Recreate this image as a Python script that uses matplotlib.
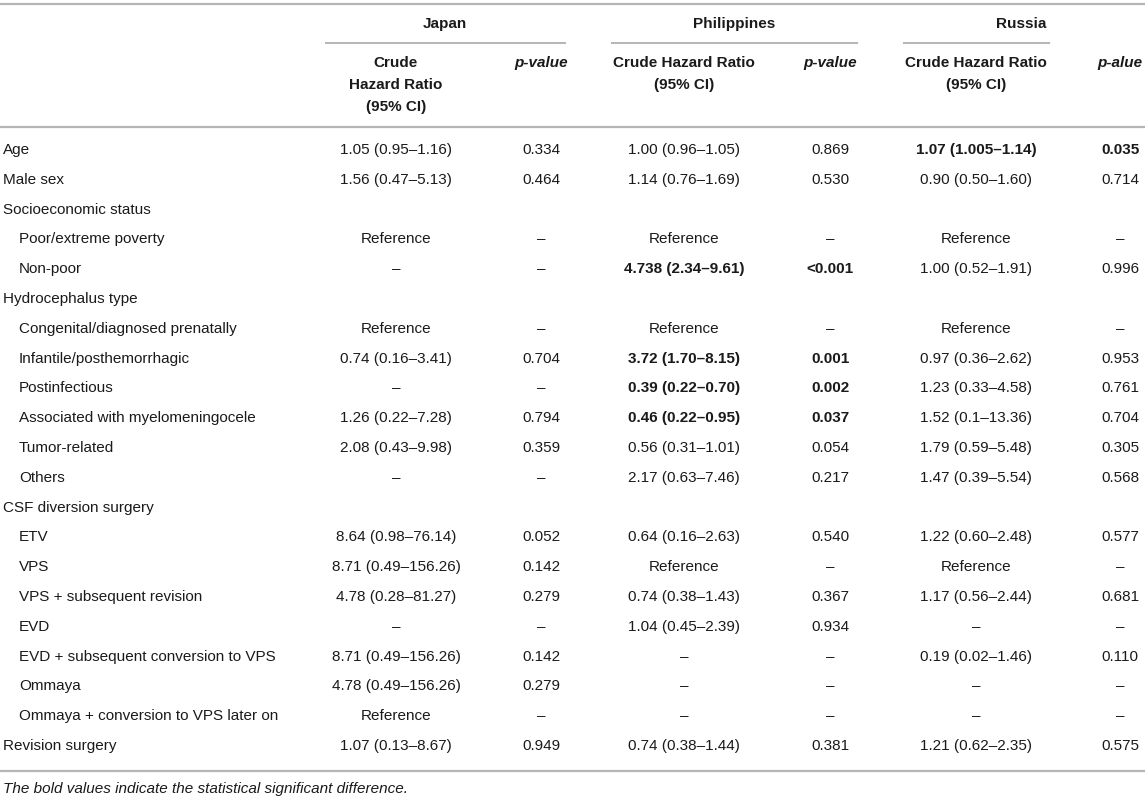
import matplotlib
matplotlib.use("Agg")
import matplotlib.pyplot as plt

plt.rcParams["font.family"] = ["Liberation Sans", "DejaVu Sans"]

# table content
countries = ["Japan", "Philippines", "Russia"]

row_labels = [
    "Age", "Male sex", "Socioeconomic status", "Poor/extreme poverty", "Non-poor",
    "Hydrocephalus type", "Congenital/diagnosed prenatally", "Infantile/posthemorrhagic",
    "Postinfectious", "Associated with myelomeningocele", "Tumor-related", "Others",
    "CSF diversion surgery", "ETV", "VPS", "VPS + subsequent revision", "EVD",
    "EVD + subsequent conversion to VPS", "Ommaya", "Ommaya + conversion to VPS later on",
    "Revision surgery",
]
row_indent = [0, 0, 0, 1, 1, 0, 1, 1, 1, 1, 1, 1, 0, 1, 1, 1, 1, 1, 1, 1, 0]

japan_hr = [
    "1.05 (0.95–1.16)", "1.56 (0.47–5.13)", "", "Reference", "–", "", "Reference",
    "0.74 (0.16–3.41)", "–", "1.26 (0.22–7.28)", "2.08 (0.43–9.98)", "–", "",
    "8.64 (0.98–76.14)", "8.71 (0.49–156.26)", "4.78 (0.28–81.27)", "–",
    "8.71 (0.49–156.26)", "4.78 (0.49–156.26)", "Reference", "1.07 (0.13–8.67)",
]
japan_p = [
    "0.334", "0.464", "", "–", "–", "", "–", "0.704", "–", "0.794", "0.359", "–", "",
    "0.052", "0.142", "0.279", "–", "0.142", "0.279", "–", "0.949",
]
phil_hr = [
    "1.00 (0.96–1.05)", "1.14 (0.76–1.69)", "", "Reference", "4.738 (2.34–9.61)", "",
    "Reference", "3.72 (1.70–8.15)", "0.39 (0.22–0.70)", "0.46 (0.22–0.95)",
    "0.56 (0.31–1.01)", "2.17 (0.63–7.46)", "", "0.64 (0.16–2.63)", "Reference",
    "0.74 (0.38–1.43)", "1.04 (0.45–2.39)", "–", "–", "–", "0.74 (0.38–1.44)",
]
phil_p = [
    "0.869", "0.530", "", "–", "<0.001", "", "–", "0.001", "0.002", "0.037", "0.054",
    "0.217", "", "0.540", "–", "0.367", "0.934", "–", "–", "–", "0.381",
]
russia_hr = [
    "1.07 (1.005–1.14)", "0.90 (0.50–1.60)", "", "Reference", "1.00 (0.52–1.91)", "",
    "Reference", "0.97 (0.36–2.62)", "1.23 (0.33–4.58)", "1.52 (0.1–13.36)",
    "1.79 (0.59–5.48)", "1.47 (0.39–5.54)", "", "1.22 (0.60–2.48)", "Reference",
    "1.17 (0.56–2.44)", "–", "0.19 (0.02–1.46)", "–", "–", "1.21 (0.62–2.35)",
]
russia_p = [
    "0.035", "0.714", "", "–", "0.996", "", "–", "0.953", "0.761", "0.704", "0.305",
    "0.568", "", "0.577", "–", "0.681", "–", "0.110", "–", "–", "0.575",
]
# rows printed in bold (significant)
japan_bold = []
phil_bold = [4, 7, 8, 9]
russia_bold = [0]

footnote = "The bold values indicate the statistical significant difference."

# layout (pixel coordinates)
W, H = 1145, 799
FS = 11
TXT = "#1a1a1a"
LINE = "#b5b5b5"

fig = plt.figure(figsize=(W / 100, H / 100), dpi=100)
ax = fig.add_axes([0, 0, 1, 1])
ax.set_xlim(0, W)
ax.set_ylim(H, 0)
ax.axis("off")

# horizontal rules
for y in (4, 127, 771):
    ax.plot([0, W], [y, y], color=LINE, lw=1.6, solid_capstyle="butt")

# country headings + underlines
group_x = [445, 734, 1021]
group_lines = [(325, 566), (611, 858), (903, 1050)]
for name, gx, (x0, x1) in zip(countries, group_x, group_lines):
    ax.text(gx, 24, name, ha="center", va="center", fontsize=FS, fontweight="bold", color=TXT)
    ax.plot([x0, x1], [43, 43], color=LINE, lw=1.4, solid_capstyle="butt")

hr_x = [396, 684, 976]
p_x = [541, 830, 1120]

# sub headers, one line at a time
bold_kw = dict(ha="center", va="center", fontsize=FS, fontweight="bold", color=TXT)
for line, y in zip(["Crude", "Hazard Ratio", "(95% CI)"], [63, 85, 107]):
    ax.text(hr_x[0], y, line, **bold_kw)
for cx in hr_x[1:]:
    ax.text(cx, 63, "Crude Hazard Ratio", **bold_kw)
    ax.text(cx, 85, "(95% CI)", **bold_kw)
for cx, lab in zip(p_x, ["p-value", "p-value", "p-alue"]):
    ax.text(cx, 63, lab, style="italic", **bold_kw)

# body
row_y0, row_step = 150, 29.8
columns = [
    (hr_x[0], japan_hr, japan_bold), (p_x[0], japan_p, japan_bold),
    (hr_x[1], phil_hr, phil_bold), (p_x[1], phil_p, phil_bold),
    (hr_x[2], russia_hr, russia_bold), (p_x[2], russia_p, russia_bold),
]
for i, label in enumerate(row_labels):
    y = row_y0 + i * row_step
    ax.text(3 + 16 * row_indent[i], y, label, ha="left", va="center", fontsize=FS, color=TXT)
    for cx, vals, bold_rows in columns:
        if vals[i]:
            ax.text(cx, y, vals[i], ha="center", va="center", fontsize=FS, color=TXT,
                    fontweight="bold" if i in bold_rows else "normal")

ax.text(3, 789, footnote, ha="left", va="center", fontsize=FS, style="italic", color=TXT)

fig.savefig("out.png", dpi=100)
